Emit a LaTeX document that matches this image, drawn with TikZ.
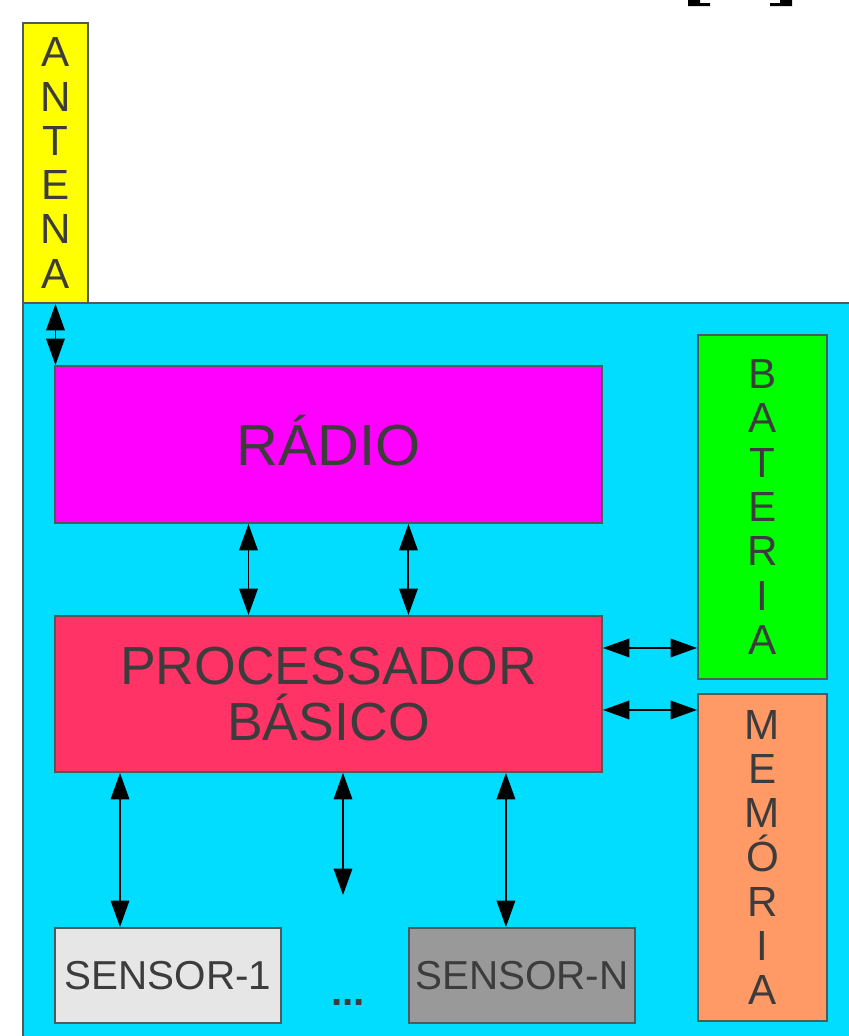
\documentclass[tikz,border=0pt]{standalone}
\usepackage{fontspec}
\setmainfont{Liberation Sans}
\usetikzlibrary{arrows.meta}
\definecolor{board}{HTML}{00DDFF}
\definecolor{antyel}{HTML}{FFFF00}
\definecolor{radio}{HTML}{FF00FF}
\definecolor{cpu}{HTML}{FF3366}
\definecolor{bat}{HTML}{00FF00}
\definecolor{mem}{HTML}{FF9966}
\definecolor{senone}{HTML}{E6E6E6}
\definecolor{senn}{HTML}{999999}
\definecolor{edge}{HTML}{4F5A5A}
\definecolor{ink}{HTML}{3C3C3C}

\begin{document}
\begin{tikzpicture}[
  x=0.02cm, y=-0.02cm,
  >={Triangle[length=15pt,width=10.5pt]},
  blk/.style 2 args={draw=edge, line width=1.1pt, inner sep=0pt, anchor=north west, align=center,
    text=ink, minimum width=#1*0.02cm, minimum height=#2*0.02cm},
  vtxt/.style={font=\fontsize{24}{25.2}\selectfont},
  sens/.style={font=\fontsize{23}{26}\selectfont},
  arr/.style={<->, line width=1.1pt, draw=black}
]
  \useasboundingbox (0,0) rectangle (849,1036);
  \clip (0,0) rectangle (849,1036);

  \node[blk={900}{800}, fill=board] (brd) at (22,302) {};
  \node[blk={65}{280}, fill=antyel, vtxt] (ant) at (22,22) {A\\N\\T\\E\\N\\A};
  \node[blk={547}{157}, fill=radio, font=\fontsize{33}{36}\selectfont, text height=23.6pt, text depth=0pt] (radio) at (54,365) {RÁDIO};
  \node[blk={547}{156}, fill=cpu, font=\fontsize{30.5}{32.3}\selectfont] (cpu) at (54,615) {PROCESSADOR\\BÁSICO};
  \node[blk={129}{344}, fill=bat, vtxt] (bat) at (697,334) {B\\A\\T\\E\\R\\I\\A};
  \node[blk={129}{327}, fill=mem, vtxt] (mem) at (697,693) {M\\E\\M\\Ó\\R\\I\\A};
  \node[blk={226}{95}, fill=senone, sens] (s1) at (54,927) {SENSOR-1};
  \node[blk={226}{95}, fill=senn, sens] (sn) at (408,927) {SENSOR-N};
  \node[anchor=base, text=ink, font=\fontsize{23}{26}\selectfont\bfseries] (dots) at (348,1005) {...};
  \coordinate (open) at (343,895);

  \draw[arr] (ant.south) -- (ant.south |- radio.north);
  \draw[arr] ([xshift=-1.6cm]radio.south) -- ([xshift=-1.6cm]cpu.north);
  \draw[arr] ([xshift=1.6cm]radio.south) -- ([xshift=1.6cm]cpu.north);
  \draw[arr] ([yshift=0.92cm]cpu.east) -- ([yshift=0.92cm]cpu.east -| bat.west);
  \draw[arr] ([yshift=-0.32cm]cpu.east) -- ([yshift=-0.32cm]cpu.east -| mem.west);
  \draw[arr] ([xshift=-4.17cm]cpu.south) -- ([xshift=-4.17cm]cpu.south |- s1.north);
  \draw[arr] (cpu.south -| open) -- (open);
  \draw[arr] ([xshift=3.55cm]cpu.south) -- ([xshift=3.55cm]cpu.south |- sn.north);

  \fill (688,0) -- (700,0) -- (700,3) -- (710,3) -- (710,6) -- (688,6) -- cycle;
  \fill (792,0) -- (780,0) -- (780,3) -- (770,3) -- (770,6) -- (792,6) -- cycle;
\end{tikzpicture}
\end{document}
